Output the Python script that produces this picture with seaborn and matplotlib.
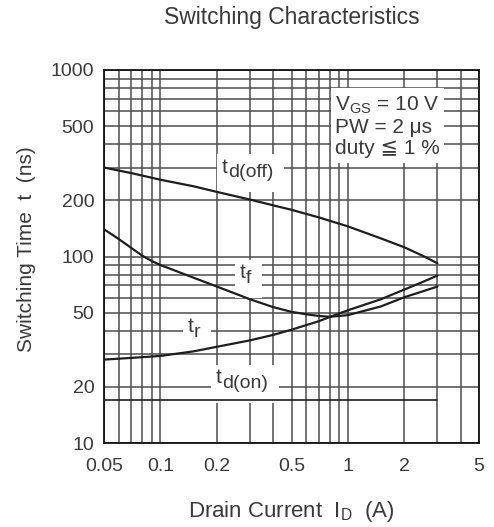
import matplotlib
matplotlib.use("Agg")
import matplotlib.pyplot as plt
import seaborn as sns
import pandas as pd
from matplotlib.ticker import FixedLocator, NullFormatter, LogLocator
from matplotlib.transforms import offset_copy

# values (I_D in A, t in ns)
current_td_off = [0.05, 0.07, 0.1, 0.15, 0.2, 0.3, 0.4, 0.5, 0.7, 1.0, 1.5, 2.0, 2.5, 3.0]
time_td_off = [300, 280, 258, 238, 222, 202, 188, 178, 162, 145, 125, 112, 101, 92]

current_tf = [0.05, 0.06, 0.07, 0.08, 0.09, 0.1, 0.15, 0.2, 0.3, 0.4, 0.5, 0.6, 0.7, 0.8,
              1.0, 1.5, 2.0, 2.5, 3.0]
time_tf = [140, 124, 111, 101, 94.5, 90, 77, 69, 59, 53.5, 50.5, 49, 48, 47.5,
           48.5, 54, 60.5, 65, 69]

current_tr = [0.05, 0.07, 0.1, 0.15, 0.2, 0.3, 0.4, 0.5, 0.7, 0.8, 1.0, 1.5, 2.0, 2.5, 3.0]
time_tr = [28, 28.6, 29.3, 31, 32.8, 35.5, 38, 40.5, 45, 47.4, 51.5, 59, 66.5, 73, 79]

current_td_on = [0.05, 3.0]
time_td_on = [17, 17]

x_ticks = [0.05, 0.1, 0.2, 0.5, 1, 2, 5]
x_ticklabels = ["0.05", "0.1", "0.2", "0.5", "1", "2", "5"]
y_ticks = [10, 20, 50, 100, 200, 500, 1000]
y_ticklabels = ["10", "20", "50", "100", "200", "500", "1000"]

sns.set_style("white")
plt.rcParams['font.family'] = ['Liberation Sans', 'DejaVu Sans']
plt.rcParams['mathtext.fontset'] = 'custom'
plt.rcParams['mathtext.rm'] = 'Liberation Sans'

text_color = "#3a3a3a"
line_color = "#1e1e1e"
grid_color = "#4d4d4d"

fig = plt.figure(figsize=(4.94, 5.27), dpi=100)
ax = fig.add_axes([104 / 494, 1 - 443 / 527, 375 / 494, 373 / 527])

curves = [
    (current_td_off, time_td_off),
    (current_tf, time_tf),
    (current_tr, time_tr),
]
for xs, ys in curves:
    df = pd.DataFrame({"I_D": xs, "t": ys})
    sns.lineplot(data=df, x="I_D", y="t", ax=ax, color=line_color, lw=1.6, zorder=3)

df_on = pd.DataFrame({"I_D": current_td_on, "t": time_td_on})
sns.lineplot(data=df_on, x="I_D", y="t", ax=ax, color=line_color, lw=1.2, zorder=3)

ax.set_xscale("log")
ax.set_yscale("log")
ax.set_xlim(0.05, 5)
ax.set_ylim(10, 1000)

ax.xaxis.set_major_locator(FixedLocator(x_ticks))
ax.set_xticklabels(x_ticklabels)
ax.yaxis.set_major_locator(FixedLocator(y_ticks))
ax.set_yticklabels(y_ticklabels)
ax.xaxis.set_minor_locator(LogLocator(base=10, subs=range(1, 10)))
ax.yaxis.set_minor_locator(LogLocator(base=10, subs=range(1, 10)))
ax.xaxis.set_minor_formatter(NullFormatter())
ax.yaxis.set_minor_formatter(NullFormatter())
ax.grid(True, which="both", color=grid_color, lw=1.1)
ax.set_axisbelow(True)
ax.tick_params(which="both", length=0, labelsize=14, labelcolor=text_color)
ax.tick_params(axis="x", pad=11)
ax.tick_params(axis="y", pad=7)
for sp in ax.spines.values():
    sp.set_color("#111111")
    sp.set_linewidth(1.3)

ax.set_xlabel("Drain Current  I$_\\mathrm{D}$  (A)", fontsize=16, color=text_color)
ax.xaxis.set_label_coords(0.5, -0.15)
ax.set_ylabel("Switching Time  t  (ns)", fontsize=15, color=text_color)
ax.yaxis.set_label_coords(-0.18, 0.52)
fig.text(0.591, 0.966, "Switching Characteristics", fontsize=16.5, color=text_color,
         ha="center", va="center")


def curve_label(x, y, sub, dx, dy):
    # white box sits behind the subscript and reaches back over the "t"
    ax.text(x, y, sub, fontsize=14, color=text_color, ha="left", va="baseline",
            bbox=dict(boxstyle="square,pad=0.55", fc="white", ec="none"), zorder=2.5,
            transform=offset_copy(ax.transData, fig=fig, x=dx, y=dy, units="points"))
    ax.text(x, y, "t", fontsize=15, color=text_color, ha="left", va="baseline",
            zorder=2.6)


curve_label(0.213, 280, "d(off)", 4.3, -3)
curve_label(0.265, 77, "f", 4.3, -4)
curve_label(0.139, 39.4, "r", 4.3, -4)
curve_label(0.198, 21, "d(on)", 4.3, -4)

ax.text(0.616, 0.935, "V$_\\mathrm{GS}$ = 10 V\nPW = 2 \u03bcs\nduty \u2266 1 %",
        transform=ax.transAxes, fontsize=15, color=text_color, ha="left", va="top",
        linespacing=1.15, zorder=2.5,
        bbox=dict(boxstyle="square,pad=0.2", fc="white", ec="none"))

fig.savefig("out.png", dpi=100)
